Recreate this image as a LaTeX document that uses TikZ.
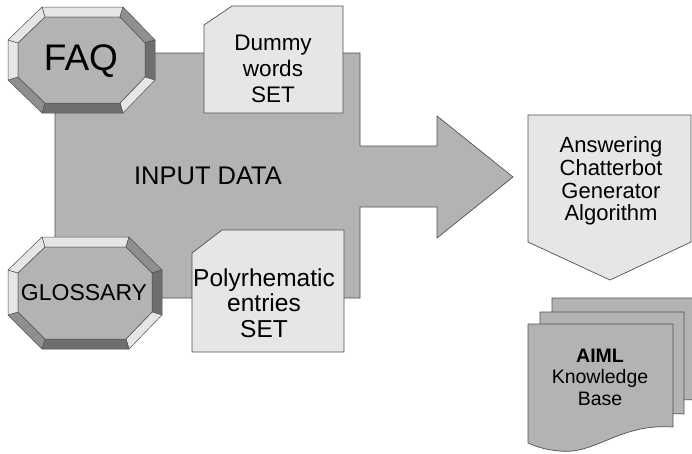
\documentclass[tikz,border=0pt]{standalone}
\usepackage{fontspec}
\setmainfont{Liberation Sans}
\definecolor{shape}{HTML}{B3B3B3}
\definecolor{lite}{HTML}{E6E6E6}
\definecolor{mid}{HTML}{8F8F8F}
\definecolor{dark}{HTML}{6E6E6E}
\definecolor{edge}{HTML}{505050}
\newcommand\bevelfaces[1]{%
  \foreach \a/\b/\c in {1/2/lite,2/3/mid,3/4/dark,4/5/lite,5/6/dark,6/7/mid,7/8/lite,8/1/lite}
    {\filldraw[fill=\c,draw=edge,line width=0.5pt,line join=round] (#1o\a) -- (#1o\b) -- (#1i\b) -- (#1i\a) -- cycle;}%
  \filldraw[fill=shape,draw=edge,line width=0.5pt] (#1i1) -- (#1i2) -- (#1i3) -- (#1i4) -- (#1i5) -- (#1i6) -- (#1i7) -- (#1i8) -- cycle;%
}
\tikzset{
  outl/.style={draw=edge,line width=0.7pt,line join=miter},
  txt/.style={align=center,text=black,inner sep=0pt},
  mtxt/.style={txt,font=\fontsize{22}{24.5}\selectfont},
}
\begin{document}
\begin{tikzpicture}[x=1pt,y=-1pt]
\useasboundingbox (0,0) rectangle (692,453);
\begin{scope}
\clip (0,0) rectangle (692,453);
% main arrow shape
\filldraw[outl,fill=shape] (55,53) -- (360,53) -- (360,146) -- (437,146) -- (437,116) -- (513,177)
  -- (437,238) -- (437,207) -- (360,207) -- (360,298) -- (55,298) -- cycle;
\node[txt,font=\fontsize{25.5}{28}\selectfont] (input) at (208,176) {INPUT DATA};

% FAQ octagon
\coordinate (fo1) at (42,7);   \coordinate (fo2) at (123,7);
\coordinate (fo3) at (155,40); \coordinate (fo4) at (155,80);
\coordinate (fo5) at (123,113);\coordinate (fo6) at (42,113);
\coordinate (fo7) at (8,80);   \coordinate (fo8) at (8,40);
\coordinate (fi1) at (45,17);  \coordinate (fi2) at (120,17);
\coordinate (fi3) at (145,43); \coordinate (fi4) at (145,77);
\coordinate (fi5) at (120,103);\coordinate (fi6) at (45,103);
\coordinate (fi7) at (18,77);  \coordinate (fi8) at (18,43);
\bevelfaces{f}
\node[txt,font=\fontsize{37}{40}\selectfont] (faq) at (81,61) {FAQ};

% GLOSSARY octagon
\coordinate (go1) at (42,237);  \coordinate (go2) at (129,237);
\coordinate (go3) at (162,270); \coordinate (go4) at (162,315);
\coordinate (go5) at (129,349); \coordinate (go6) at (42,349);
\coordinate (go7) at (8,315);   \coordinate (go8) at (8,270);
\coordinate (gi1) at (45,247);  \coordinate (gi2) at (126,247);
\coordinate (gi3) at (152,273); \coordinate (gi4) at (152,312);
\coordinate (gi5) at (126,339); \coordinate (gi6) at (45,339);
\coordinate (gi7) at (18,312);  \coordinate (gi8) at (18,273);
\bevelfaces{g}
\node[txt,font=\fontsize{23}{26}\selectfont] (glossary) at (84,293) {GLOSSARY};

% Dummy words card
\filldraw[outl,fill=lite] (232,6) -- (343,6) -- (343,113) -- (204,113) -- (204,25) -- cycle;
\node[mtxt,font=\fontsize{22.5}{26}\selectfont] (dummy) at (273,69) {Dummy\\words\\SET};

% Polyrhematic card
\filldraw[outl,fill=lite] (222,230) -- (344,230) -- (344,352) -- (192,352) -- (192,253) -- cycle;
\node[mtxt,font=\fontsize{24.5}{25.5}\selectfont] (poly) at (264,303) {Polyrhematic\\entries\\SET};

% Answering box
\filldraw[outl,fill=lite] (528,115) -- (691,115) -- (691,242) -- (610,280) -- (528,242) -- cycle;
\node[mtxt,font=\fontsize{22}{22.7}\selectfont] (algo) at (611,181) {Answering\\Chatterbot\\Generator\\Algorithm};

% AIML documents
\filldraw[outl,fill=shape] (552,298) -- (697,298) -- (697,400)
  .. controls (644,396) and (619,428) .. (584,424) .. controls (569,423) and (559,419) .. (552,416) -- cycle;
\filldraw[outl,fill=shape] (540,312) -- (684,312) -- (684,414)
  .. controls (631,410) and (606,442) .. (572,438) .. controls (557,437) and (547,433) .. (540,430) -- cycle;
\filldraw[outl,fill=shape] (528,324) -- (673,324) -- (673,427)
  .. controls (620,423) and (595,455) .. (560,451) .. controls (545,450) and (535,446) .. (528,443) -- cycle;
\node[mtxt,font=\fontsize{19.5}{21.5}\selectfont] (aiml) at (600,377) {\textbf{AIML}\\Knowledge\\Base};
\end{scope}
\end{tikzpicture}
\end{document}
